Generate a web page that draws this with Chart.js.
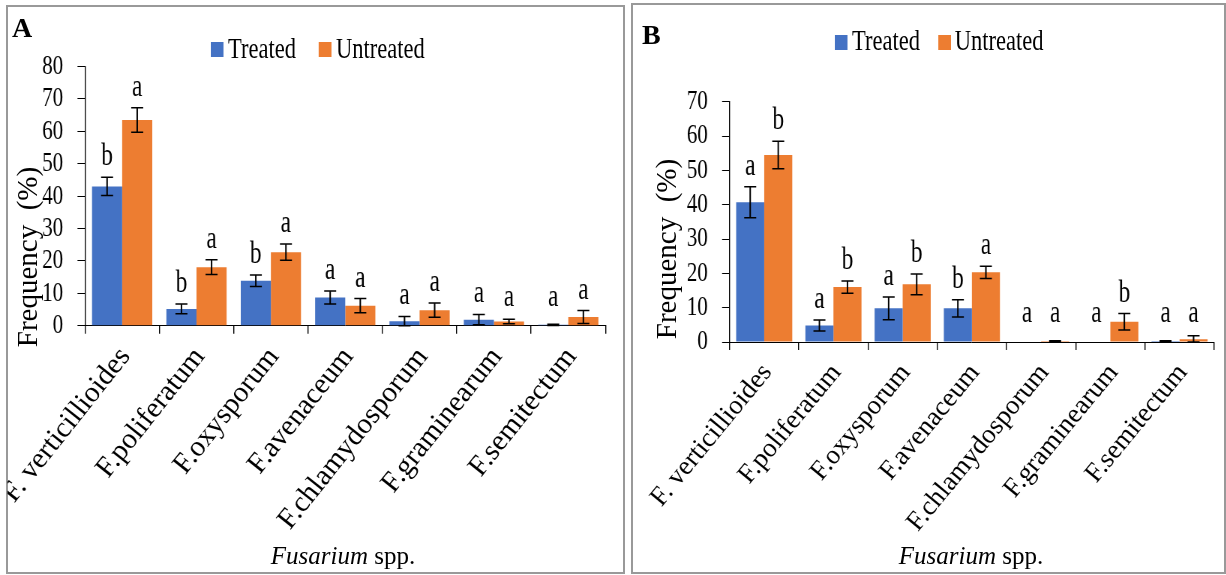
<!DOCTYPE html>
<html>
<head>
<meta charset="utf-8">
<script src="https://cdn.jsdelivr.net/npm/chart.js@4.4.1/dist/chart.umd.min.js"></script>
<style>
  html, body { margin: 0; padding: 0; background: #fff; }
  body { width: 1226px; height: 575px; position: relative; overflow: hidden;
         font-family: 'Liberation Serif', 'Times New Roman', serif; color: #000; }
  /* the figure is horizontally condensed, so draw wide and squeeze */
  #squash { position: absolute; left: 0; top: 0; width: 1635px; height: 575px;
            transform: scaleX(0.75); transform-origin: 0 0; }
  .frame { position: absolute; border: 2px solid #999; box-sizing: border-box; }
  .abs { position: absolute; white-space: pre; }
  .legtxt { font-size: 30px; line-height: 30px; }
  .sq { position: absolute; width: 17px; height: 15px; }
  .ytitle { font-size: 29px; line-height: 30px; width: 260px; height: 30px; text-align: center; transform: rotate(-90deg); }
  .xtitle { font-size: 25px; line-height: 25px; width: 300px; text-align: center; }
  .panel { font-size: 28px; line-height: 28px; font-weight: bold; }
  canvas { position: absolute; }
</style>
</head>
<body>
  <div class="frame" style="left:6px;top:5px;width:619px;height:569px;"></div>
  <div class="frame" style="left:631px;top:3px;width:595px;height:571px;"></div>

  <div id="squash">
    <canvas id="chartA" width="820" height="565" style="left:10px;top:7px;"></canvas>
    <canvas id="chartB" width="785" height="565" style="left:845px;top:7px;"></canvas>

    <div class="sq" style="left:281px;top:42px;background:#4472C4;"></div>
    <div class="abs legtxt" style="left:304px;top:33px;">Treated</div>
    <div class="sq" style="left:425px;top:42px;background:#ED7D31;"></div>
    <div class="abs legtxt" style="left:448px;top:33px;">Untreated</div>

    <div class="sq" style="left:1113px;top:35px;background:#4472C4;"></div>
    <div class="abs legtxt" style="left:1136px;top:25px;">Treated</div>
    <div class="sq" style="left:1251px;top:35px;background:#ED7D31;"></div>
    <div class="abs legtxt" style="left:1273px;top:25px;">Untreated</div>
  </div>

  <div class="abs panel" style="left:12px;top:14px;">A</div>
  <div class="abs panel" style="left:642px;top:21px;">B</div>

  <div class="abs ytitle" style="left:-103px;top:242px;">Frequency  (%)</div>
  <div class="abs ytitle" style="left:536px;top:234px;">Frequency  (%)</div>

  <div class="abs xtitle" style="left:193px;top:543px;"><i>Fusarium</i> spp.</div>
  <div class="abs xtitle" style="left:821px;top:543px;"><i>Fusarium</i> spp.</div>

<script>
// Fusarium species frequency, treated vs untreated (panels A and B)

const species = ['F. verticillioides', 'F.poliferatum', 'F.oxysporum', 'F.avenaceum',
                 'F.chlamydosporum', 'F.graminearum', 'F.semitectum'];

// Panel A
const treatedA = [43.0, 5.2, 13.9, 8.7, 1.4, 1.9, 0.3];
const treatedErrA = [2.8, 1.5, 1.8, 2.0, 1.5, 1.6, 0.2];
const untreatedA = [63.5, 18.1, 22.7, 6.2, 4.8, 1.3, 2.7];
const untreatedErrA = [3.8, 2.3, 2.5, 2.2, 2.2, 0.7, 2.0];
const treatedLettersA = ['b', 'b', 'b', 'a', 'a', 'a', 'a'];
const untreatedLettersA = ['a', 'a', 'a', 'a', 'a', 'a', 'a'];

// Panel B
const treatedB = [40.7, 4.8, 9.8, 9.8, 0, 0, 0.3];
const treatedErrB = [4.5, 1.6, 3.3, 2.5, 0, 0, 0.1];
const untreatedB = [54.5, 16.0, 16.8, 20.3, 0.3, 5.9, 0.8];
const untreatedErrB = [4.0, 1.8, 3.0, 1.8, 0.1, 2.4, 1.0];
const treatedLettersB = ['a', 'a', 'a', 'b', 'a', 'a', 'a'];
const untreatedLettersB = ['b', 'b', 'b', 'a', 'a', 'b', 'a'];

const SERIF = "'Liberation Serif', 'Times New Roman', serif";
const SQUASH = 0.75;

// Draw error bars and significance letters on top of the bars
const errorBarsPlugin = {
  id: 'errorBars',
  afterDatasetsDraw(chart) {
    const ctx = chart.ctx;
    const y = chart.scales.y;
    const zero = y.getPixelForValue(0);
    ctx.save();
    chart.data.datasets.forEach((ds, i) => {
      const meta = chart.getDatasetMeta(i);
      meta.data.forEach((bar, j) => {
        const v = ds.data[j];
        const e = ds.errors[j];
        const top = y.getPixelForValue(v + e);
        if (e > 0) {
          const bot = y.getPixelForValue(Math.max(v - e, 0));
          ctx.strokeStyle = '#000';
          ctx.lineWidth = 2;
          ctx.beginPath();
          ctx.moveTo(bar.x, top);
          ctx.lineTo(bar.x, bot);
          ctx.stroke();
          ctx.lineWidth = 1.5;
          ctx.beginPath();
          ctx.moveTo(bar.x - 8, top);
          ctx.lineTo(bar.x + 8, top);
          ctx.moveTo(bar.x - 8, bot);
          ctx.lineTo(bar.x + 8, bot);
          ctx.stroke();
        }
        ctx.fillStyle = '#000';
        ctx.font = '31px ' + SERIF;
        ctx.textAlign = 'center';
        ctx.textBaseline = 'alphabetic';
        const base = Math.min(top - 12, zero - 20);
        ctx.fillText(ds.letters[j], bar.x, base);
      });
    });
    ctx.restore();
  }
};

// Category labels: drawn un-squeezed and slanted, anchored on the scale's ticks
const slantLabelsPlugin = {
  id: 'slantLabels',
  afterDraw(chart, args, opts) {
    const ctx = chart.ctx;
    const x = chart.scales.x;
    const labels = x.getLabels();
    ctx.save();
    ctx.fillStyle = '#000';
    ctx.font = opts.size + 'px ' + SERIF;
    ctx.textAlign = 'right';
    ctx.textBaseline = 'middle';
    labels.forEach((lab, i) => {
      ctx.save();
      ctx.translate(x.getPixelForTick(i) + opts.dx, x.top + opts.dy);
      ctx.scale(1 / SQUASH, 1);
      ctx.rotate(-opts.angle * Math.PI / 180);
      ctx.fillText(lab, 0, 0);
      ctx.restore();
    });
    ctx.restore();
  }
};

function makeChart(id, treated, tErr, tLet, untreated, uErr, uLet, yMax, geom) {
  return new Chart(document.getElementById(id), {
    type: 'bar',
    data: {
      labels: species,
      datasets: [
        { label: 'Treated', data: treated, errors: tErr, letters: tLet,
          backgroundColor: '#4472C4', borderWidth: 0 },
        { label: 'Untreated', data: untreated, errors: uErr, letters: uLet,
          backgroundColor: '#ED7D31', borderWidth: 0 }
      ]
    },
    options: {
      responsive: false,
      animation: false,
      devicePixelRatio: 1,
      categoryPercentage: 0.81,
      barPercentage: 1.0,
      layout: { padding: { left: 0, right: geom.right, top: geom.top, bottom: 0 } },
      plugins: {
        legend: { display: false },
        tooltip: { enabled: false },
        slantLabels: { size: geom.labelSize, angle: geom.angle, dx: 4, dy: 26 }
      },
      scales: {
        x: {
          offset: true,
          grid: { offset: true, drawOnChartArea: false, drawTicks: true, tickLength: 8,
                  color: '#000', lineWidth: 1.4 },
          border: { display: true, color: '#000', width: 1 },
          ticks: { display: false },
          afterFit: (scale) => { scale.height = geom.xHeight; }
        },
        y: {
          min: 0, max: yMax,
          grid: { drawOnChartArea: false, drawTicks: true, tickLength: 10, color: '#000', lineWidth: 1 },
          border: { display: true, color: '#000', width: 1.4 },
          ticks: { stepSize: 10, autoSkip: false, color: '#000',
                   font: { family: SERIF, size: 28 }, padding: 19 },
          afterFit: (scale) => { scale.width = geom.yWidth; }
        }
      }
    },
    plugins: [errorBarsPlugin, slantLabelsPlugin]
  });
}

makeChart('chartA', treatedA, treatedErrA, treatedLettersA, untreatedA, untreatedErrA, untreatedLettersA, 80,
  { right: 22.7, top: 59.5, xHeight: 246.2, yWidth: 103.3, labelSize: 29, angle: 51.5 });
makeChart('chartB', treatedB, treatedErrB, treatedLettersB, untreatedB, untreatedErrB, untreatedLettersB, 70,
  { right: 11.1, top: 94.7, xHeight: 230, yWidth: 127.8, labelSize: 27, angle: 50.5 });
</script>
</body>
</html>
